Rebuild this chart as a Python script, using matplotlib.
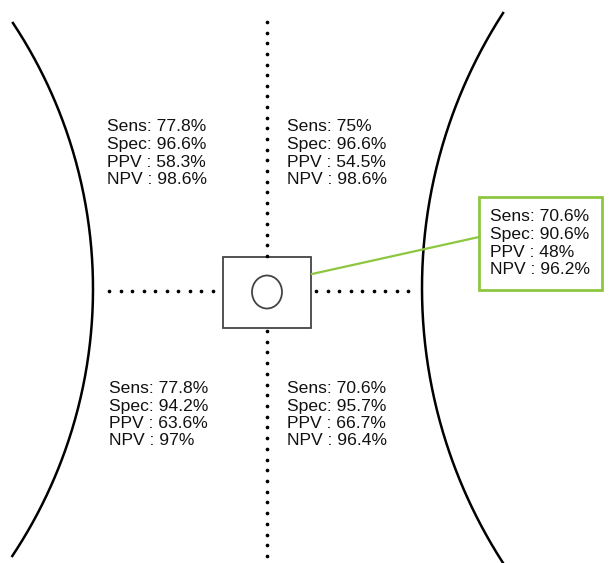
import numpy as np
import matplotlib.pyplot as plt
from matplotlib.patches import Rectangle, Ellipse

plt.rcParams['font.family'] = ['Liberation Sans', 'DejaVu Sans']

metrics = ["Sens: ", "Spec: ", "PPV : ", "NPV : "]

top_left = ["77.8%", "96.6%", "58.3%", "98.6%"]
top_right = ["75%", "96.6%", "54.5%", "98.6%"]
bottom_left = ["77.8%", "94.2%", "63.6%", "97%"]
bottom_right = ["70.6%", "95.7%", "66.7%", "96.4%"]
center = ["70.6%", "90.6%", "48%", "96.2%"]

W, H = 609, 563
fig = plt.figure(figsize=(W / 100, H / 100), dpi=100)
ax = fig.add_axes([0, 0, 1, 1])
ax.set_xlim(0, W)
ax.set_ylim(H, 0)
ax.axis("off")

# curved side borders (circle arcs)
y = np.linspace(23, 556, 300)
cx, cy, r = -389, 289, 482
ax.plot(cx + np.sqrt(r**2 - (y - cy)**2), y, color="black", lw=1.8)
y = np.linspace(13, 563, 300)
cx, cy, r = 929, 288, 507
ax.plot(cx - np.sqrt(r**2 - (y - cy)**2), y, color="black", lw=1.8)

# dotted guide lines
dot = dict(color="black", s=7, linewidths=0, zorder=3)
vy = np.concatenate([np.linspace(22, 256, 23), np.linspace(331, 556, 22)])
ax.scatter(np.full(len(vy), 267), vy, **dot)
hx = np.concatenate([np.linspace(109, 213, 10), np.linspace(316, 408, 9)])
ax.scatter(hx, np.full(len(hx), 291), **dot)

# centre box with ellipse
ax.add_patch(Rectangle((223, 257), 88, 71, fill=False, ec="#444444", lw=1.3, zorder=2))
ax.add_patch(Ellipse((267, 292), 30, 33, fill=False, ec="#444444", lw=1.3))

# callout
green = "#8dc63f"
ax.plot([312, 479], [274, 237], color=green, lw=1.6)
ax.add_patch(Rectangle((479, 197), 123, 93, fill=False, ec=green, lw=2))


def block(x, baselines, values):
    for b, m, v in zip(baselines, metrics, values):
        ax.text(x, b, m + v, fontsize=12.6, va="baseline", ha="left", color="#111111")


block(107, [131, 149, 167, 184.5], top_left)
block(287, [131, 149, 167, 184.5], top_right)
block(109, [393, 411, 428, 445], bottom_left)
block(287, [393, 411, 428, 445], bottom_right)
block(490, [221, 239, 257, 274], center)

fig.savefig("out.png", dpi=100)
